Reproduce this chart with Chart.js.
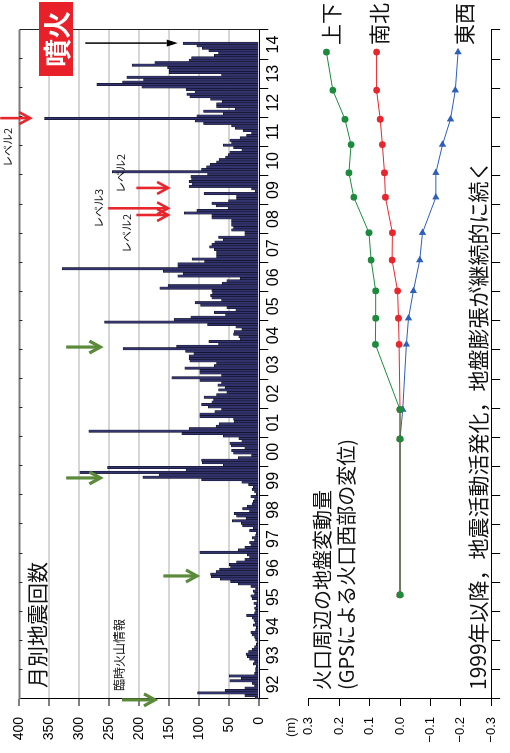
<!DOCTYPE html>
<html>
<head>
<meta charset="utf-8">
<script src="https://cdn.jsdelivr.net/npm/chart.js@4.4.1/dist/chart.umd.min.js"></script>
<style>
  html, body { margin: 0; padding: 0; background: #fff; width: 510px; height: 753px; overflow: hidden; }
  #stage {
    position: absolute; left: 0; top: 0; width: 753px; height: 510px;
    transform-origin: 0 0; transform: translate(0, 753px) rotate(-90deg);
    font-family: "Noto Sans CJK JP", sans-serif; color: #111;
  }
  #countCanvas { position: absolute; left: 0; top: 0; }
  #dispCanvas { position: absolute; left: 0; top: 290px; }
  .t { position: absolute; white-space: nowrap; line-height: 1; }
  .lv { font-size: 11px; }
  .series { font-size: 21px; }
  #eruption {
    position: absolute; left: 677px; top: 39px; width: 74px; height: 34px;
    background: #e8202a; color: #fff; font-size: 28px; font-weight: bold;
    line-height: 34px; text-align: center;
  }
</style>
</head>
<body>
<div id="stage">
  <canvas id="countCanvas" width="753" height="290"></canvas>
  <canvas id="dispCanvas" width="753" height="220"></canvas>

  <div class="t" style="left:65px; top:26px; font-size:21px;">月別地震回数</div>
  <div class="t" style="left:62px; top:113px; font-size:12px;">臨時火山情報</div>
  <div class="t lv" style="left:586px; top:2px;">レベル2</div>
  <div class="t lv" style="left:560px; top:115px;">レベル2</div>
  <div class="t lv" style="left:525px; top:93px;">レベル3</div>
  <div class="t lv" style="left:500px; top:121px;">レベル2</div>
  <div id="eruption">噴火</div>

  <div class="t" style="left:16px; top:284px; font-size:13px; font-family:'Liberation Sans', sans-serif;">(m)</div>
  <div class="t" style="left:63px; top:312px; font-size:20px;">火口周辺の地盤変動量</div>
  <div class="t" style="left:63px; top:336px; font-size:20px;">(GPSによる火口西部の変位)</div>
  <div class="t" style="left:63px; top:467px; font-size:21px;">1999年以降，地震活動活発化，地盤膨張が継続的に続く</div>
  <div class="t series" style="left:708px; top:320px;">上下</div>
  <div class="t series" style="left:708px; top:368px;">南北</div>
  <div class="t series" style="left:708px; top:453px;">東西</div>
</div>

<script>
// Monthly earthquake counts, January 1992 onward (one row per year)
const countStartYear = 1992;
const monthlyCounts = [
  7, 24, 103, 57, 24, 8, 12, 49, 30, 50, 8, 6,          // 1992
  6, 5, 10, 8, 16, 20, 22, 18, 12, 8, 5, 4,             // 1993
  6, 8, 12, 14, 6, 5, 10, 7, 9, 12, 21, 8,              // 1994
  6, 8, 5, 9, 4, 12, 14, 8, 10, 6, 14, 35,              // 1995
  48, 65, 80, 81, 72, 66, 48, 50, 38, 24, 16, 20,       // 1996
  99, 35, 24, 14, 16, 8, 12, 6, 5, 16, 10, 28,          // 1997
  30, 45, 22, 38, 42, 16, 28, 20, 12, 10, 8, 14,        // 1998
  5, 8, 12, 10, 18, 29, 96, 194, 167, 299, 122, 253,    // 1999
  60, 95, 96, 35, 13, 43, 46, 24, 47, 49, 29, 34,       // 2000
  60, 129, 284, 117, 72, 67, 42, 43, 99, 99, 74, 63,    // 2001
  85, 96, 79, 76, 92, 71, 54, 68, 57, 69, 63, 99,       // 2002
  146, 63, 99, 99, 124, 75, 71, 116, 117, 117, 109, 123,// 2003
  227, 138, 68, 84, 32, 34, 43, 42, 29, 39, 86, 258,    // 2004
  142, 114, 56, 75, 39, 54, 98, 107, 63, 79, 81, 78,    // 2005
  79, 166, 152, 62, 54, 32, 136, 127, 160, 329, 136, 136,// 2006
  91, 112, 71, 71, 71, 75, 83, 79, 74, 60, 68, 24,      // 2007
  24, 46, 43, 46, 46, 46, 79, 79, 125, 104, 52, 72,     // 2008
  79, 51, 38, 38, 92, 7, 13, 117, 112, 117, 113, 114,   // 2009
  86, 245, 96, 88, 82, 71, 67, 56, 52, 49, 29, 43,      // 2010
  60, 46, 49, 32, 21, 13, 27, 40, 46, 93, 107, 358,     // 2011
  104, 60, 93, 40, 71, 71, 62, 81, 116, 121, 107, 122,  // 2012
  196, 271, 228, 193, 221, 63, 150, 150, 153, 212, 174, 117, // 2013
  113, 75, 68, 84, 95, 104, 127                         // 2014
];

// GPS survey epochs (decimal years) and displacement of the west crater site (m)
const gpsYears       = [1995.58, 2000.94, 2001.95, 2004.19, 2005.09, 2006.03, 2007.09, 2008.03, 2009.25, 2010.09, 2011.06, 2011.93, 2012.93, 2014.24];
const dispUpDown     = [0, 0, 0, 0.081, 0.080, 0.080, 0.095, 0.102, 0.152, 0.168, 0.161, 0.181, 0.221, 0.242];
const dispNorthSouth = [0, 0, 0, 0.003, 0.005, 0.008, 0.026, 0.025, 0.048, 0.051, 0.058, 0.065, 0.077, 0.077];
const dispEastWest   = [0, 0, -0.009, -0.021, -0.028, -0.044, -0.065, -0.074, -0.118, -0.118, -0.140, -0.166, -0.182, -0.191];

// Axis ticks
const yearStart = 1992, yearEnd = 2015;
const countTicks = [0, 50, 100, 150, 200, 250, 300, 350, 400];
const dispTicks = [-0.3, -0.25, -0.2, -0.15, -0.1, -0.05, 0, 0.05, 0.1, 0.15, 0.2, 0.25, 0.3];

// Alert arrows: year, from/to in counts
const levelArrows = [
  { year: 2011.97, from: 432, to: 382 },
  { year: 2009.57, from: 205, to: 152 },
  { year: 2008.87, from: 252, to: 152 },
  { year: 2008.64, from: 205, to: 152 }
];
const bulletinArrows = [
  { year: 2004.10, from: 322, to: 265 },
  { year: 1999.60, from: 322, to: 265 },
  { year: 1996.23, from: 160, to: 104 },
  { year: 1991.97, from: 229, to: 174 }
];
const eruptionArrow = { year: 2014.55, from: 290, to: 136 };

const tickFont = { family: "'Liberation Sans', Arial, sans-serif", size: 14 };

function yearTickList(step) {
  const out = [];
  for (let v = yearStart; v <= yearEnd + 1e-9; v += step) out.push({ value: +v.toFixed(2) });
  return out;
}

const framePlugin = {
  id: 'frame',
  afterDatasetsDraw(chart) {
    const { ctx, chartArea: a, scales: { x } } = chart;
    ctx.save();
    ctx.strokeStyle = '#7c7c7c';
    ctx.lineWidth = 2;
    ctx.beginPath();
    ctx.moveTo(a.left, a.top); ctx.lineTo(a.right, a.top);
    ctx.stroke();
    ctx.strokeStyle = '#222';
    ctx.lineWidth = 1;
    ctx.beginPath();
    ctx.moveTo(a.right + 0.5, a.top); ctx.lineTo(a.right + 0.5, a.bottom);
    for (let yr = yearStart + 1; yr < yearEnd; yr++) {
      const px = Math.round(x.getPixelForValue(yr)) + 0.5;
      ctx.moveTo(px, a.top); ctx.lineTo(px, a.top + 3);
    }
    ctx.stroke();
    ctx.restore();
  }
};

function drawArrow(ctx, px, y0, y1, color, width, filled) {
  const hl = 11, hw = 6;
  ctx.strokeStyle = color;
  ctx.fillStyle = color;
  ctx.lineWidth = width;
  ctx.lineCap = 'butt';
  ctx.beginPath();
  ctx.moveTo(px, y0);
  ctx.lineTo(px, filled ? y1 - hl : y1 - 1);
  ctx.stroke();
  ctx.beginPath();
  if (filled) {
    ctx.moveTo(px - 3.5, y1 - hl); ctx.lineTo(px + 3.5, y1 - hl); ctx.lineTo(px, y1);
    ctx.closePath(); ctx.fill();
  } else {
    ctx.lineJoin = 'miter';
    ctx.moveTo(px - hw, y1 - hl); ctx.lineTo(px, y1); ctx.lineTo(px + hw, y1 - hl);
    ctx.stroke();
  }
}

const arrowPlugin = {
  id: 'arrows',
  afterDraw(chart) {
    const { ctx, scales: { x, y } } = chart;
    ctx.save();
    for (const a of levelArrows) {
      drawArrow(ctx, x.getPixelForValue(a.year), y.getPixelForValue(a.from), y.getPixelForValue(a.to), '#e8262d', 2.6, false);
    }
    for (const a of bulletinArrows) {
      drawArrow(ctx, x.getPixelForValue(a.year), y.getPixelForValue(a.from), y.getPixelForValue(a.to), '#5a8a3a', 3.2, false);
    }
    const e = eruptionArrow;
    drawArrow(ctx, x.getPixelForValue(e.year), y.getPixelForValue(e.from), y.getPixelForValue(e.to), '#000', 1.5, true);
    ctx.restore();
  }
};

// Monthly count bars
new Chart(document.getElementById('countCanvas'), {
  type: 'bar',
  data: {
    datasets: [{
      data: monthlyCounts.map((v, i) => ({ x: countStartYear + (i + 0.5) / 12, y: v })),
      backgroundColor: '#33336e',
      borderColor: '#05050f',
      borderWidth: 0.5,
      inflateAmount: 0.35,
      barPercentage: 1,
      categoryPercentage: 1
    }]
  },
  options: {
    responsive: false, animation: false, devicePixelRatio: 1,
    layout: { padding: { top: 19.3, right: 30, left: 0, bottom: 0 } },
    plugins: { legend: { display: false }, tooltip: { enabled: false } },
    scales: {
      x: {
        type: 'linear', min: yearStart, max: yearEnd, offset: false,
        afterBuildTicks: s => { s.ticks = yearTickList(0.5); },
        afterFit: s => { s.height = 30.7; },
        grid: {
          offset: false, drawOnChartArea: false, tickLength: 9, tickWidth: 1,
          color: c => (c.tick && Number.isInteger(c.tick.value)) ? '#000' : 'rgba(0,0,0,0)'
        },
        border: { color: '#000', width: 1 },
        ticks: {
          autoSkip: false, maxRotation: 0, minRotation: 0, padding: -4, color: '#000',
          font: { family: "'Liberation Sans', Arial, sans-serif", size: 16 },
          callback: v => Number.isInteger(v) ? '' : String(Math.floor(v) % 100).padStart(2, '0')
        }
      },
      y: {
        min: 0, max: 400,
        afterBuildTicks: s => { s.ticks = countTicks.map(v => ({ value: v })); },
        afterFit: s => { s.width = 54; },
        grid: {
          lineWidth: 2, tickLength: 7, tickWidth: 1, tickColor: '#000',
          color: c => (c.tick && (c.tick.value === 0 || c.tick.value === 400)) ? 'rgba(0,0,0,0)' : '#d6d6d6'
        },
        border: { color: '#000', width: 1 },
        ticks: { padding: 11, color: '#000', font: tickFont, callback: v => String(v) }
      }
    }
  },
  plugins: [framePlugin, arrowPlugin]
});

// GPS displacement lines (first dataset is painted on top)
function fmtDisp(v) {
  const r = Math.round(v * 100) / 100;
  if (Math.abs(r * 10 - Math.round(r * 10)) > 1e-6) return '';
  return (r < 0 ? '\u2212' : '') + Math.abs(r).toFixed(1);
}
const pts = vals => vals.map((v, i) => ({ x: gpsYears[i], y: v }));

new Chart(document.getElementById('dispCanvas'), {
  type: 'line',
  data: {
    datasets: [
      { label: '上下', data: pts(dispUpDown), borderColor: '#1e8a3e', backgroundColor: '#1e8a3e',
        borderWidth: 1, pointStyle: 'circle', pointRadius: 3.4, pointBorderWidth: 0 },
      { label: '南北', data: pts(dispNorthSouth), borderColor: '#e8262d', backgroundColor: '#e8262d',
        borderWidth: 1, pointStyle: 'circle', pointRadius: 3.4, pointBorderWidth: 0 },
      { label: '東西', data: pts(dispEastWest), borderColor: '#2f5fb8', backgroundColor: '#2f5fb8',
        borderWidth: 1, pointStyle: 'triangle', pointRotation: 90, pointRadius: 4.3, pointBorderWidth: 0 }
    ]
  },
  options: {
    responsive: false, animation: false, devicePixelRatio: 1,
    layout: { padding: { top: 18, right: 30, left: 0, bottom: 0 } },
    plugins: { legend: { display: false }, tooltip: { enabled: false } },
    scales: {
      x: {
        type: 'linear', min: yearStart, max: yearEnd,
        afterBuildTicks: s => { s.ticks = yearTickList(1); },
        afterFit: s => { s.height = 11.7; },
        grid: { drawOnChartArea: false, tickLength: 9, color: '#000' },
        border: { color: '#000', width: 1 },
        ticks: { display: false }
      },
      y: {
        min: -0.3, max: 0.3,
        afterBuildTicks: s => { s.ticks = dispTicks.map(v => ({ value: v })); },
        afterFit: s => { s.width = 54; },
        grid: { drawOnChartArea: false, tickLength: 7, color: '#000' },
        border: { color: '#000', width: 1 },
        ticks: { padding: 11, color: '#000', font: { family: "'Liberation Sans', Arial, sans-serif", size: 13 }, callback: fmtDisp }
      }
    }
  }
});
</script>
</body>
</html>
